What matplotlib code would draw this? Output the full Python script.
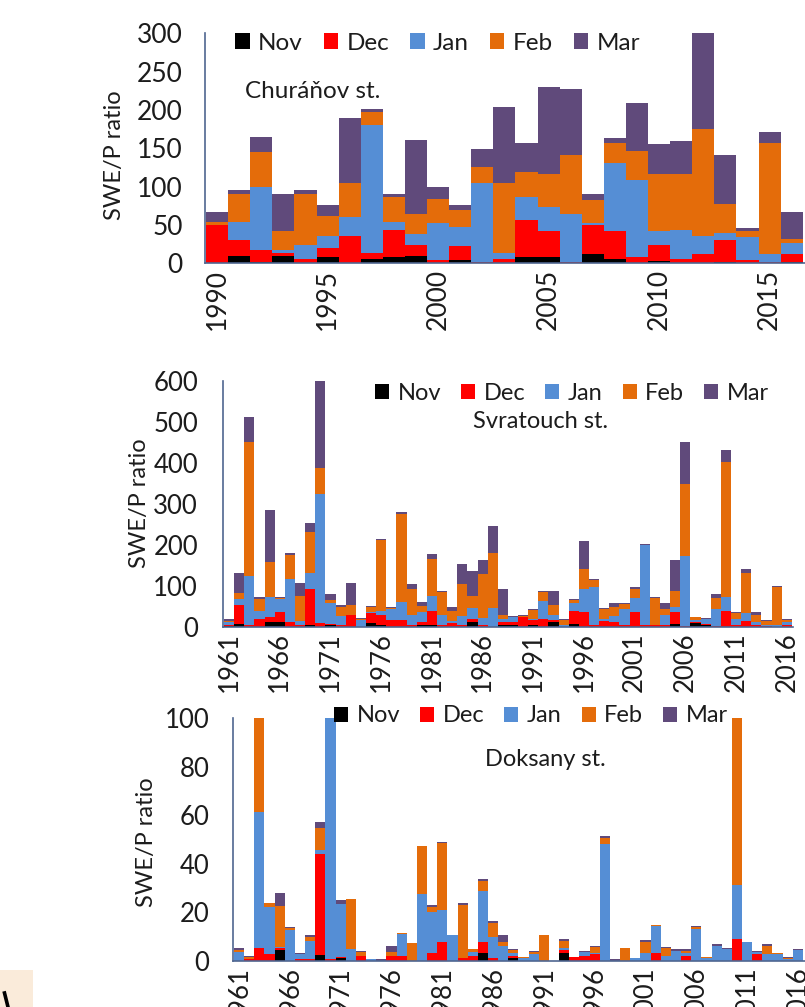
import matplotlib
matplotlib.use("Agg")
import matplotlib.pyplot as plt
from matplotlib.patches import Patch, Rectangle
from matplotlib.lines import Line2D
import numpy as np

plt.rcParams['font.family'] = ['Lato', 'DejaVu Sans']

# ---------------- data ----------------
months = ["Nov", "Dec", "Jan", "Feb", "Mar"]
colors = ["#000000", "#FF0000", "#558ED5", "#E46C0A", "#604A7B"]

# Churáňov station, 1990-2016
years_ch = list(range(1990, 2017))
nov_ch = [1, 10, 2, 10, 0, 8, 1, 6, 8, 10, 0, 4, 0, 0, 8, 8, 0, 12, 6, 0, 3, 0, 1, 2, 0, 0, 2]
dec_ch = [49, 20, 16, 3, 5, 12, 35, 8, 36, 14, 4, 18, 2, 6, 48, 34, 2, 38, 36, 8, 21, 6, 11, 28, 4, 2, 10]
jan_ch = [0, 24, 81, 4, 19, 16, 24, 166, 10, 14, 48, 26, 103, 8, 30, 31, 62, 2, 89, 101, 18, 38, 24, 10, 30, 10, 14]
feb_ch = [4, 36, 46, 25, 67, 26, 45, 17, 32, 26, 32, 22, 20, 91, 33, 44, 77, 30, 26, 38, 75, 73, 139, 38, 8, 145, 6]
mar_ch = [13, 6, 20, 49, 5, 14, 85, 4, 5, 97, 15, 6, 24, 99, 38, 113, 87, 9, 6, 62, 38, 42, 125, 63, 4, 14, 35]

# Svratouch station, 1961-2016
years_sv = list(range(1961, 2017))
nov_sv = [1, 6, 0, 0, 12, 12, 0, 0, 4, 0, 4, 0, 0, 0, 8, 4, 0, 0, 0, 4,
          4, 0, 0, 0, 12, 0, 0, 4, 4, 0, 4, 0, 12, 0, 7, 0, 0, 0, 0, 0,
          0, 0, 0, 0, 7, 0, 8, 4, 0, 0, 0, 0, 0, 0, 0, 0]
dec_sv = [3, 47, 4, 19, 12, 23, 12, 4, 89, 8, 3, 4, 28, 0, 25, 24, 16, 16, 4, 8,
          35, 4, 8, 4, 6, 4, 0, 8, 8, 23, 12, 19, 4, 0, 32, 35, 4, 15, 12, 4,
          35, 4, 4, 4, 28, 2, 4, 3, 2, 39, 4, 15, 4, 1, 0, 4]
jan_sv = [8, 14, 120, 20, 49, 32, 105, 11, 39, 315, 52, 23, 0, 16, 3, 11, 26, 45, 24, 24,
          37, 24, 7, 22, 28, 17, 46, 6, 11, 0, 4, 44, 12, 4, 20, 56, 92, 5, 14, 38,
          34, 195, 0, 24, 12, 170, 4, 11, 40, 33, 16, 18, 8, 2, 4, 8]
feb_sv = [3, 16, 326, 28, 86, 2, 59, 61, 98, 65, 6, 21, 24, 4, 11, 172, 3, 215, 63, 14,
          90, 57, 24, 78, 30, 107, 133, 10, 1, 4, 21, 21, 24, 12, 6, 50, 19, 23, 23, 13,
          22, 1, 67, 15, 40, 175, 7, 2, 27, 330, 13, 99, 16, 12, 94, 4]
mar_sv = [3, 49, 61, 6, 126, 4, 3, 31, 24, 212, 15, 4, 55, 1, 3, 4, 2, 4, 13, 11,
          11, 3, 10, 48, 61, 34, 66, 65, 2, 2, 2, 3, 35, 2, 2, 69, 2, 3, 10, 3,
          7, 1, 2, 16, 75, 103, 1, 1, 11, 30, 2, 9, 7, 1, 2, 4]

# Doksany station, 1961-2016
years_dk = list(range(1961, 2017))
nov_dk = [0, 0, 0, 0, 4.3, 0, 0, 0, 2.3, 0, 1, 0, 0, 0, 0, 0, 0, 0, 0, 0,
          0, 0, 0, 0, 3.3, 0, 0, 1, 0, 0, 0, 0, 3.3, 0, 0, 0, 0, 0, 0, 0,
          0, 0, 0, 0, 0, 0, 0, 0, 0, 0, 0, 0, 0, 0, 0, 0]
dec_dk = [0, 0.7, 5.1, 2.8, 0.8, 0, 0.7, 0.7, 41.6, 0.7, 0.4, 0, 1.9, 0, 0, 1.9, 1.9, 0, 0, 3.2,
          7.8, 0, 1, 1.9, 4.5, 1, 0, 0.9, 0, 0, 0, 0, 1, 1.7, 1.9, 2.8, 0, 0, 0, 0,
          0, 3.3, 0, 0, 2.1, 0, 0, 0, 0, 8.9, 0, 2.8, 0, 0, 0, 0]
jan_dk = [3.7, 0, 56.1, 19.5, 0.5, 12.5, 2.2, 7.6, 1.6, 99.3, 21.8, 4.8, 0, 0.8, 0, 0, 9, 0, 27.4, 16.7,
          13.1, 10.6, 0, 1.5, 21.1, 8.9, 6, 1.4, 1, 2.8, 0, 0, 0.8, 0, 1.5, 0.2, 48, 0, 0, 1.2,
          3.3, 11.1, 2.1, 4.1, 0.9, 12.9, 1, 6.2, 4.7, 22.3, 7.6, 0.6, 2.6, 2.6, 0.7, 4.3]
feb_dk = [0.8, 0.9, 38.8, 1.4, 17.1, 0.8, 0, 1.5, 9.1, 0, 0, 20.6, 1.8, 0, 0, 1.8, 0.5, 7.2, 19.9, 2.4,
          27.5, 0, 22, 1.4, 4.1, 5.5, 1.8, 1, 0.4, 0.6, 10.6, 0, 3.2, 0, 0, 2.6, 2.8, 0, 5.1, 0,
          4.5, 0.5, 3, 0, 1.1, 0.9, 0.4, 0, 0, 68.8, 0.2, 0.3, 3.4, 0.7, 0.5, 0]
mar_dk = [0.6, 0.4, 0, 0, 5.1, 0.7, 0.4, 0.8, 2.5, 0, 1.7, 0, 0.3, 0, 0.6, 2.3, 0, 0, 0, 0.7,
          0.7, 0, 0.8, 0, 0.7, 1, 2.8, 0.5, 0, 0.5, 0, 0, 0.6, 0, 0.5, 0.6, 0.6, 0.8, 0, 0,
          0.6, 0, 0.4, 0.7, 0.7, 0.5, 0, 0.5, 0.4, 0, 0, 0.4, 0.7, 0, 0.3, 0.5]

# ---------------- figure ----------------
W, H = 805, 1007
fig = plt.figure(figsize=(W / 100, H / 100), dpi=100)
TXT = "#1c1c1c"
AXC = "#4F6690"


def fx(px):
    return px / W


def fy(py):
    return 1 - py / H


def panel(left, right, zero_y, top_y, first_bar, bar_w, years, series, ymax, ystep,
          name, name_xy, leg_xy, ylab_xy, tick_fs, text_fs, ypad):
    ax = fig.add_axes([fx(left), fy(zero_y), fx(right) - fx(left), (zero_y - top_y) / H])
    n = len(years)
    x = np.arange(n)
    bottom = np.zeros(n)
    for vals, c in zip(series, colors):
        v = np.asarray(vals, dtype=float)
        ax.bar(x, v, width=1.0, bottom=bottom, color=c, linewidth=0)
        bottom += v
    x0 = -0.5 - (first_bar - left) / bar_w
    ax.set_xlim(x0, x0 + (right - left) / bar_w)
    ax.set_ylim(0, ymax)
    ax.set_yticks(np.arange(0, ymax + 1, ystep))
    ticks = [i for i, y in enumerate(years) if (y - years[0]) % 5 == 0]
    ax.set_xticks(ticks)
    ax.set_xticklabels([str(years[i]) for i in ticks], rotation=90)
    ax.tick_params(length=0, labelsize=tick_fs, colors=TXT, pad=4)
    ax.tick_params(axis='y', pad=ypad)
    for s in ("top", "right"):
        ax.spines[s].set_visible(False)
    for s in ("left", "bottom"):
        ax.spines[s].set_color(AXC)
        ax.spines[s].set_linewidth(1.2)
    ax.patch.set_alpha(0)
    handles = [Patch(facecolor=c, edgecolor='none', label=m) for m, c in zip(months, colors)]
    ax.legend(handles=handles, ncol=5, frameon=False, loc='center left',
              bbox_to_anchor=(fx(leg_xy[0]), fy(leg_xy[1])), bbox_transform=fig.transFigure,
              borderpad=0, borderaxespad=0, handlelength=0.6, handleheight=0.6,
              handletextpad=0.35, columnspacing=0.85, fontsize=text_fs, labelcolor=TXT)
    fig.text(fx(name_xy[0]), fy(name_xy[1]), name, fontsize=text_fs, color=TXT,
             ha='left', va='center')
    fig.text(fx(ylab_xy[0]), fy(ylab_xy[1]), "SWE/P ratio", fontsize=17, color=TXT,
             rotation=90, ha='center', va='center')
    return ax


panel(205, 805, 263.3, 33.3, 206, 22.1, years_ch,
      [nov_ch, dec_ch, jan_ch, feb_ch, mar_ch], 300, 50,
      "Churáňov st.", (245, 92), (235, 43), (114, 155), 19, 17.5, 16)

panel(223, 793, 626.7, 380.7, 224, 10.14, years_sv,
      [nov_sv, dec_sv, jan_sv, feb_sv, mar_sv], 600, 100,
      "Svratouch st.", (473, 422), (375, 393), (139, 503), 18.5, 17, 18)

panel(233, 805, 960.7, 718.3, 234, 10.16, years_dk,
      [nov_dk, dec_dk, jan_dk, feb_dk, mar_dk], 100, 20,
      "Doksany st.", (485, 760), (334, 716), (146, 842), 18.5, 17, 17)

# small tinted box in the lower-left corner
fig.add_artist(Rectangle((0, 0), fx(33), 37 / H, transform=fig.transFigure,
                         facecolor="#FAEBDA", edgecolor='none', zorder=0))
fig.add_artist(Line2D([fx(4.5), fx(8)], [fy(993), fy(1007)], transform=fig.transFigure,
                      color='black', linewidth=2.6))

fig.savefig("out.png", dpi=100)
